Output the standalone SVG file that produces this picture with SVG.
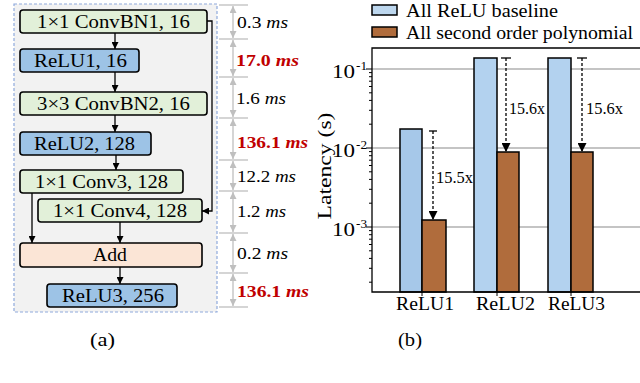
<svg xmlns="http://www.w3.org/2000/svg" width="640" height="383" viewBox="0 0 640 383">
<style>
text{font-family:"Times New Roman","Liberation Serif",Times,serif;fill:#000}
.nt{font-size:19px;text-anchor:middle}
.box{stroke:#000;stroke-width:1.6}
.g{fill:#e2f0d9}.b{fill:#9dc3e6}.o{fill:#fbe5d6}
.cn{stroke:#000;stroke-width:1.3;fill:none}
.dim{stroke:#bfbfbf;stroke-width:1.3;fill:none}
.dt{font-size:16px}
.red{fill:#c00000;font-weight:bold}
.grid{stroke:#b0b0b0;stroke-width:1.3}
.ax{stroke:#000;stroke-width:1.3;fill:none}
.tk{stroke:#000;stroke-width:1}
.bl{fill:#b3d2ef;stroke:#000;stroke-width:1.5}
.br{fill:#b06c3c;stroke:#000;stroke-width:1.5}
.da{stroke:#000;stroke-width:1.3;stroke-dasharray:3 2;fill:none}
.lab{font-size:18px}
.sp{font-size:16px}
</style>
<defs>
<marker id="ah" viewBox="0 0 10 10" refX="10" refY="5" markerWidth="7" markerHeight="7" markerUnits="userSpaceOnUse" orient="auto"><path d="M0,0 L10,5 L0,10 z" fill="#000"/></marker>
<marker id="gh" viewBox="0 0 10 10" refX="10" refY="5" markerWidth="8" markerHeight="7" markerUnits="userSpaceOnUse" orient="auto-start-reverse"><path d="M0,0 L10,5 L0,10 z" fill="#bfbfbf"/></marker>
<marker id="bh" viewBox="0 0 10 10" refX="10" refY="5" markerWidth="9" markerHeight="9" markerUnits="userSpaceOnUse" orient="auto"><path d="M0,0 L10,5 L0,10 z" fill="#000"/></marker>
</defs>

<!-- panel a background -->
<rect x="14" y="4" width="203" height="308" fill="#f2f2f2" stroke="#8faadc" stroke-width="1.2" stroke-dasharray="3 2"/>

<g id="connectors">
<line class="cn" x1="115" y1="33" x2="115" y2="49" marker-end="url(#ah)"/>
<line class="cn" x1="115" y1="72" x2="115" y2="92" marker-end="url(#ah)"/>
<line class="cn" x1="115" y1="115" x2="115" y2="132" marker-end="url(#ah)"/>
<line class="cn" x1="116" y1="155" x2="116" y2="170" marker-end="url(#ah)"/>
<polyline class="cn" points="207,21 212,21 212,211 202,211" marker-end="url(#ah)"/>
<line class="cn" x1="32" y1="193" x2="32" y2="243" marker-end="url(#ah)"/>
<line class="cn" x1="120" y1="222" x2="120" y2="243" marker-end="url(#ah)"/>
<line class="cn" x1="120" y1="267" x2="120" y2="284" marker-end="url(#ah)"/>
</g>

<g id="n1"><rect class="box g" x="20" y="10" width="187" height="23" rx="3"/><text class="nt" x="113.5" y="28" textLength="153" lengthAdjust="spacingAndGlyphs">1×1 ConvBN1, 16</text></g>
<g id="n2"><rect class="box b" x="20" y="49" width="119" height="23" rx="3"/><text class="nt" x="80.5" y="67" textLength="93" lengthAdjust="spacingAndGlyphs">ReLU1, 16</text></g>
<g id="n3"><rect class="box g" x="20" y="92" width="187" height="23" rx="3"/><text class="nt" x="113.5" y="110" textLength="153" lengthAdjust="spacingAndGlyphs">3×3 ConvBN2, 16</text></g>
<g id="n4"><rect class="box b" x="20" y="132" width="131" height="23" rx="3"/><text class="nt" x="84.5" y="150" textLength="101" lengthAdjust="spacingAndGlyphs">ReLU2, 128</text></g>
<g id="n5"><rect class="box g" x="20" y="170" width="163" height="23" rx="3"/><text class="nt" x="101.5" y="188" textLength="133" lengthAdjust="spacingAndGlyphs">1×1 Conv3, 128</text></g>
<g id="n6"><rect class="box g" x="38" y="199" width="164" height="23" rx="3"/><text class="nt" x="120" y="217" textLength="134" lengthAdjust="spacingAndGlyphs">1×1 Conv4, 128</text></g>
<g id="n7"><rect class="box o" x="20" y="243" width="182" height="24" rx="3"/><text class="nt" x="110" y="261" textLength="34" lengthAdjust="spacingAndGlyphs">Add</text></g>
<g id="n8"><rect class="box b" x="47" y="284" width="130" height="23" rx="3"/><text class="nt" x="113" y="302" textLength="102" lengthAdjust="spacingAndGlyphs">ReLU3, 256</text></g>

<!-- dimension annotations -->
<g id="dims">
<g class="dim">
<line x1="219" y1="5" x2="248" y2="5"/>
<line x1="219" y1="39" x2="248" y2="39"/>
<line x1="219" y1="77" x2="248" y2="77"/>
<line x1="219" y1="118" x2="248" y2="118"/>
<line x1="219" y1="160" x2="248" y2="160"/>
<line x1="219" y1="191" x2="248" y2="191"/>
<line x1="219" y1="233" x2="248" y2="233"/>
<line x1="219" y1="273" x2="248" y2="273"/>
<line x1="219" y1="307" x2="248" y2="307"/>
<line x1="233" y1="6" x2="233" y2="38" marker-start="url(#gh)" marker-end="url(#gh)"/>
<line x1="233" y1="40" x2="233" y2="76" marker-start="url(#gh)" marker-end="url(#gh)"/>
<line x1="233" y1="78" x2="233" y2="117" marker-start="url(#gh)" marker-end="url(#gh)"/>
<line x1="233" y1="119" x2="233" y2="159" marker-start="url(#gh)" marker-end="url(#gh)"/>
<line x1="233" y1="161" x2="233" y2="190" marker-start="url(#gh)" marker-end="url(#gh)"/>
<line x1="233" y1="192" x2="233" y2="232" marker-start="url(#gh)" marker-end="url(#gh)"/>
<line x1="233" y1="234" x2="233" y2="272" marker-start="url(#gh)" marker-end="url(#gh)"/>
<line x1="233" y1="274" x2="233" y2="306" marker-start="url(#gh)" marker-end="url(#gh)"/>
</g>
<text class="dt" x="237" y="28" textLength="51" lengthAdjust="spacingAndGlyphs">0.3 <tspan font-style="italic">ms</tspan></text>
<text class="dt red" x="236" y="66" textLength="63" lengthAdjust="spacingAndGlyphs">17.0 <tspan font-style="italic">ms</tspan></text>
<text class="dt" x="236" y="104" textLength="50" lengthAdjust="spacingAndGlyphs">1.6 <tspan font-style="italic">ms</tspan></text>
<text class="dt red" x="237" y="148" textLength="71" lengthAdjust="spacingAndGlyphs">136.1 <tspan font-style="italic">ms</tspan></text>
<text class="dt" x="237" y="182" textLength="59" lengthAdjust="spacingAndGlyphs">12.2 <tspan font-style="italic">ms</tspan></text>
<text class="dt" x="237" y="217" textLength="49" lengthAdjust="spacingAndGlyphs">1.2 <tspan font-style="italic">ms</tspan></text>
<text class="dt" x="237" y="259" textLength="51" lengthAdjust="spacingAndGlyphs">0.2 <tspan font-style="italic">ms</tspan></text>
<text class="dt red" x="237" y="297" textLength="72" lengthAdjust="spacingAndGlyphs">136.1 <tspan font-style="italic">ms</tspan></text>
</g>

<text class="lab" x="90" y="346" textLength="25" lengthAdjust="spacingAndGlyphs">(a)</text>

<!-- panel b chart -->
<g id="chart">
<line class="grid" x1="372" y1="69" x2="640" y2="69"/>
<line class="grid" x1="372" y1="148" x2="640" y2="148"/>
<line class="grid" x1="372" y1="227" x2="640" y2="227"/>

<rect class="bl" x="400" y="129" width="22" height="163" style="fill:#a6c8e9"/>
<rect class="br" x="422" y="220" width="24" height="72"/>
<rect class="bl" x="474" y="58" width="23" height="234"/>
<rect class="br" x="497" y="152" width="22" height="140"/>
<rect class="bl" x="548" y="58" width="23" height="234"/>
<rect class="br" x="571" y="152" width="22" height="140"/>

<path class="ax" d="M640,48 L372,48 L372,292 L640,292"/>
<g class="tk">
<line x1="366" y1="69" x2="372" y2="69"/><line x1="366" y1="148" x2="372" y2="148"/><line x1="366" y1="227" x2="372" y2="227"/>
<line x1="369" y1="282.2" x2="372" y2="282.2"/><line x1="369" y1="268.3" x2="372" y2="268.3"/><line x1="369" y1="258.4" x2="372" y2="258.4"/><line x1="369" y1="250.8" x2="372" y2="250.8"/><line x1="369" y1="244.5" x2="372" y2="244.5"/><line x1="369" y1="239.2" x2="372" y2="239.2"/><line x1="369" y1="234.7" x2="372" y2="234.7"/><line x1="369" y1="230.6" x2="372" y2="230.6"/>
<line x1="369" y1="203.2" x2="372" y2="203.2"/><line x1="369" y1="189.3" x2="372" y2="189.3"/><line x1="369" y1="179.4" x2="372" y2="179.4"/><line x1="369" y1="171.8" x2="372" y2="171.8"/><line x1="369" y1="165.5" x2="372" y2="165.5"/><line x1="369" y1="160.2" x2="372" y2="160.2"/><line x1="369" y1="155.7" x2="372" y2="155.7"/><line x1="369" y1="151.6" x2="372" y2="151.6"/>
<line x1="369" y1="124.2" x2="372" y2="124.2"/><line x1="369" y1="110.3" x2="372" y2="110.3"/><line x1="369" y1="100.4" x2="372" y2="100.4"/><line x1="369" y1="92.8" x2="372" y2="92.8"/><line x1="369" y1="86.5" x2="372" y2="86.5"/><line x1="369" y1="81.2" x2="372" y2="81.2"/><line x1="369" y1="76.7" x2="372" y2="76.7"/><line x1="369" y1="72.6" x2="372" y2="72.6"/>
<line x1="422" y1="292" x2="422" y2="296"/><line x1="497" y1="292" x2="497" y2="296"/><line x1="571" y1="292" x2="571" y2="296"/>
</g>
<text class="lab" x="332" y="78" textLength="23" lengthAdjust="spacingAndGlyphs">10</text><text x="356" y="70" font-size="13" textLength="11" lengthAdjust="spacingAndGlyphs">-1</text>
<text class="lab" x="332" y="157" textLength="23" lengthAdjust="spacingAndGlyphs">10</text><text x="356" y="149" font-size="13" textLength="11" lengthAdjust="spacingAndGlyphs">-2</text>
<text class="lab" x="332" y="236" textLength="23" lengthAdjust="spacingAndGlyphs">10</text><text x="356" y="228" font-size="13" textLength="11" lengthAdjust="spacingAndGlyphs">-3</text>
<text class="lab" transform="translate(331,166) rotate(-90)" text-anchor="middle" textLength="107" lengthAdjust="spacingAndGlyphs">Latency (s)</text>
<text class="lab" x="396" y="310" textLength="58" lengthAdjust="spacingAndGlyphs">ReLU1</text>
<text class="lab" x="476" y="310" textLength="59" lengthAdjust="spacingAndGlyphs">ReLU2</text>
<text class="lab" x="548" y="310" textLength="57" lengthAdjust="spacingAndGlyphs">ReLU3</text>

<!-- speedup arrows -->
<line class="ax" x1="429" y1="131" x2="437" y2="131" stroke-width="2"/>
<line class="da" x1="433" y1="131" x2="433" y2="220" marker-end="url(#bh)"/>
<text class="sp" x="436" y="183" textLength="37" lengthAdjust="spacingAndGlyphs">15.5x</text>
<line class="ax" x1="501" y1="58" x2="511" y2="58" stroke-width="2"/>
<line class="da" x1="506" y1="58" x2="506" y2="152" marker-end="url(#bh)"/>
<text class="sp" x="509" y="114" textLength="36" lengthAdjust="spacingAndGlyphs">15.6x</text>
<line class="ax" x1="577" y1="58" x2="587" y2="58" stroke-width="2"/>
<line class="da" x1="582" y1="58" x2="582" y2="152" marker-end="url(#bh)"/>
<text class="sp" x="586" y="114" textLength="37" lengthAdjust="spacingAndGlyphs">15.6x</text>

<!-- legend -->
<rect class="bl" x="372" y="5" width="25" height="10" style="fill:#bdd7ee"/>
<text class="lab" x="406" y="17" textLength="152" lengthAdjust="spacingAndGlyphs">All ReLU baseline</text>
<rect class="br" x="372" y="27" width="25" height="10"/>
<text class="lab" x="406" y="39" textLength="227" lengthAdjust="spacingAndGlyphs">All second order polynomial</text>
</g>

<text class="lab" x="398" y="346" textLength="24" lengthAdjust="spacingAndGlyphs">(b)</text>
</svg>
